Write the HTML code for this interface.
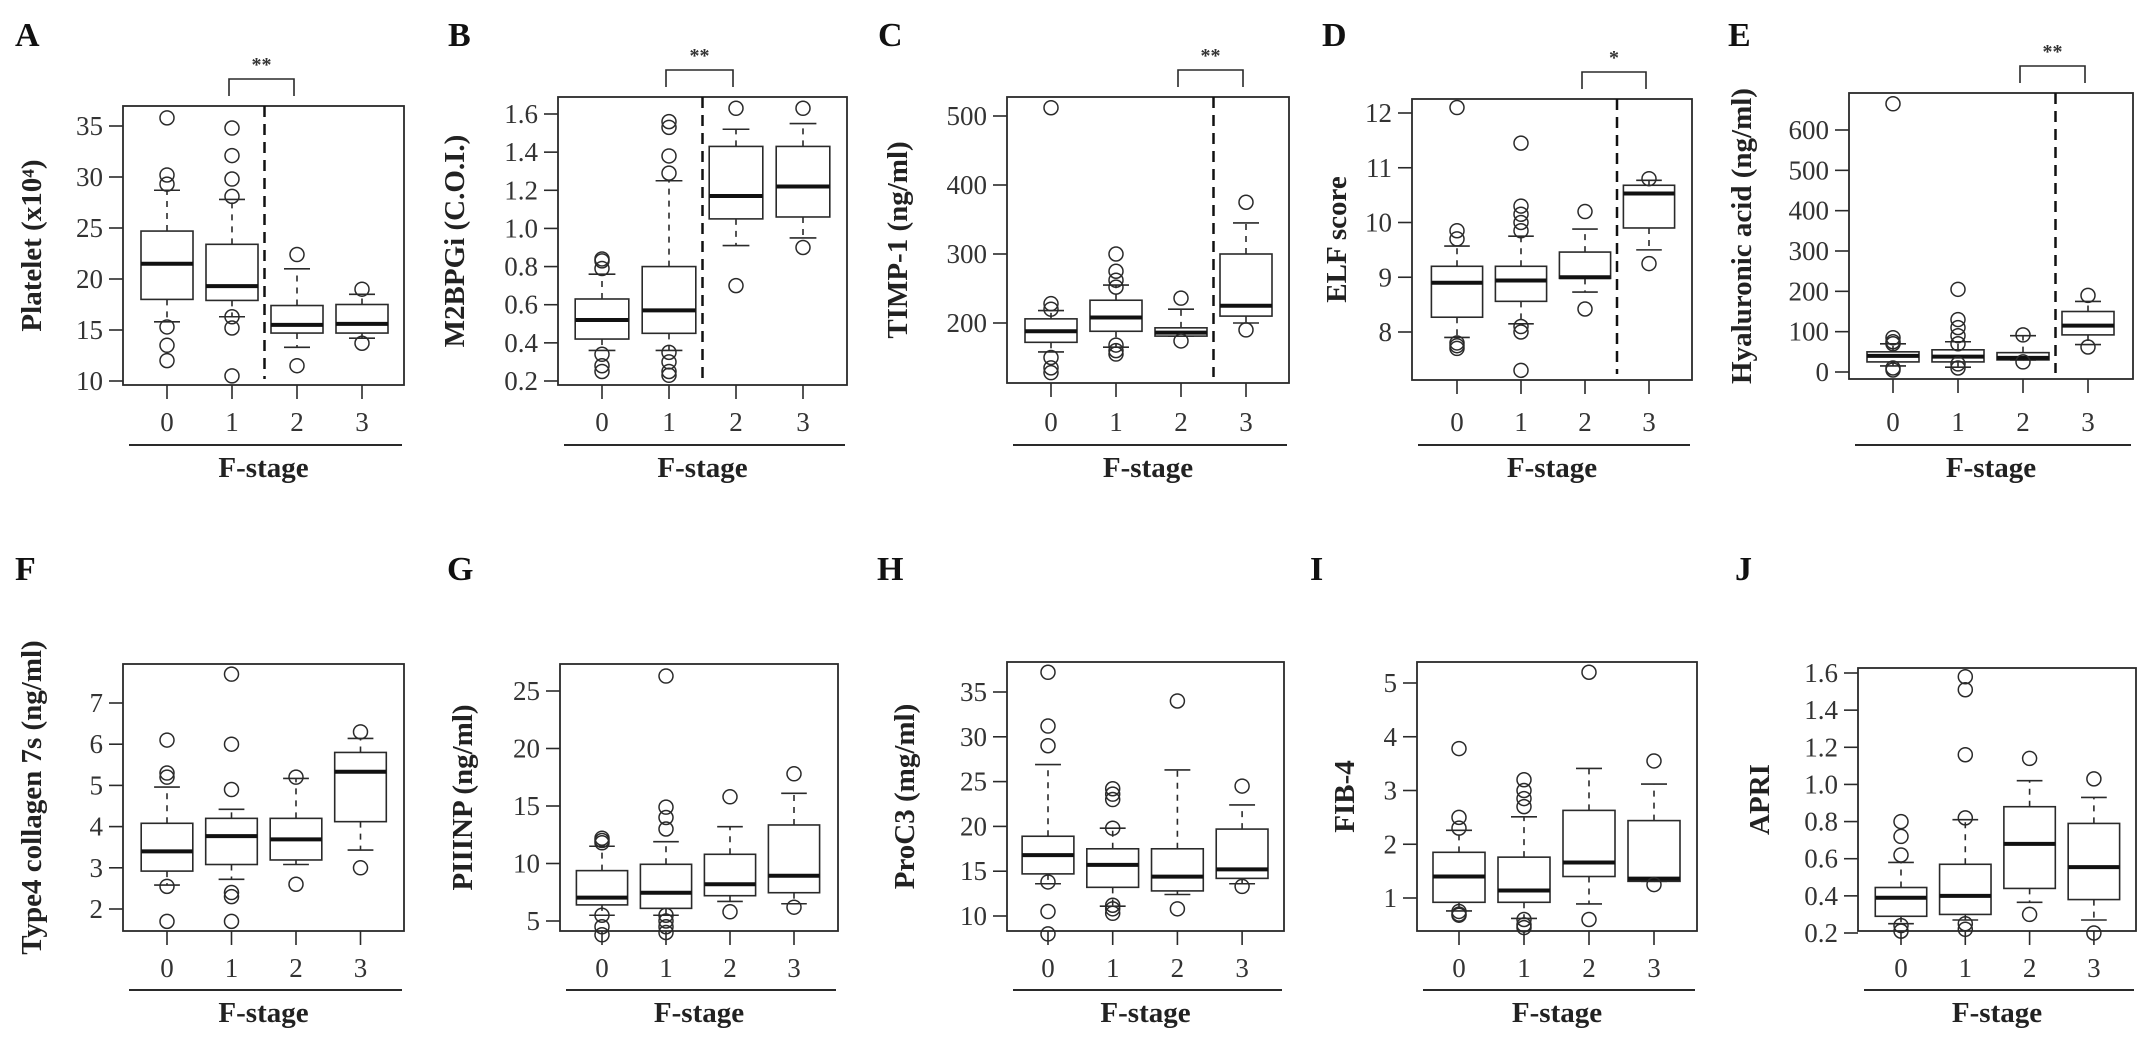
<!DOCTYPE html>
<html><head><meta charset="utf-8">
<style>
html,body{margin:0;padding:0;background:#fff;}
svg{display:block;font-family:"Liberation Serif",serif;}
</style></head>
<body>
<svg id="fig" width="2150" height="1058" viewBox="0 0 2150 1058" xmlns="http://www.w3.org/2000/svg"></svg>
<script>
// ---- data: [Q1, median, Q3, lowerWhisker, upperWhisker] per F-stage 0..3
const A_stats=[[18,21.5,24.7,15.8,28.7],[17.9,19.3,23.4,16.3,27.8],[14.7,15.5,17.4,13.3,21],[14.7,15.6,17.5,14.2,18.5]];
const A_out=[[35.8,30.2,29.3,15.3,13.5,12],[34.8,32.1,29.8,28.1,16.3,15.2,10.5],[22.4,11.5],[19.0,13.7]];
const A_ticks=[10,15,20,25,30,35];
const B_stats=[[0.42,0.52,0.63,0.36,0.76],[0.45,0.57,0.80,0.36,1.25],[1.05,1.17,1.43,0.91,1.52],[1.06,1.22,1.43,0.95,1.55]];
const B_out=[[0.84,0.83,0.79,0.34,0.28,0.25],[1.56,1.53,1.38,1.29,0.35,0.30,0.25,0.23],[1.63,0.70],[1.63,0.90]];
const B_ticks=[0.2,0.4,0.6,0.8,1.0,1.2,1.4,1.6];
const C_stats=[[172,188,206,158,218],[188,208,233,165,255],[181,186,193,181,220],[210,225,300,200,345]];
const C_out=[[512,228,220,150,135,128],[300,275,262,252,168,160,155],[236,174],[375,190]];
const C_ticks=[200,300,400,500];
const D_stats=[[8.27,8.9,9.2,7.9,9.57],[8.56,8.94,9.2,8.15,9.75],[8.98,9.0,9.46,8.73,9.88],[9.9,10.53,10.68,9.5,10.77]];
const D_out=[[12.1,9.85,9.7,7.8,7.75,7.7],[11.45,10.3,10.15,10.0,9.85,8.1,8.0,7.3],[10.2,8.42],[10.8,9.25]];
const D_ticks=[8,9,10,11,12];
const E_stats=[[25,40,50,15,70],[25,38,55,12,75],[30,35,48,30,90],[92,115,150,68,175]];
const E_out=[[665,85,75,70,10,5],[205,130,110,90,70,20,10],[92,25],[190,62]];
const E_ticks=[0,100,200,300,400,500,600];
const F_stats=[[2.92,3.4,4.08,2.58,4.96],[3.08,3.77,4.2,2.72,4.42],[3.19,3.69,4.2,3.08,5.17],[4.12,5.33,5.8,3.43,6.14]];
const F_out=[[6.1,5.3,5.2,2.55,1.7],[7.7,6.0,4.9,2.4,2.3,1.7],[5.2,2.6],[6.3,3.0]];
const F_ticks=[2,3,4,5,6,7];
const G_stats=[[6.4,7.03,9.38,5.5,11.5],[6.1,7.46,9.93,5.5,11.9],[7.2,8.2,10.8,6.7,13.2],[7.46,8.94,13.35,6.5,16.1]];
const G_out=[[12.2,12.0,11.8,5.5,4.5,3.8],[26.3,14.9,14.0,13.0,5.5,5.0,4.5,4.0],[15.8,5.8],[17.8,6.2]];
const G_ticks=[5,10,15,20,25];
const H_stats=[[14.7,16.8,18.9,13.6,26.9],[13.2,15.7,17.5,11.1,19.8],[12.8,14.4,17.5,12.4,26.3],[14.2,15.2,19.7,13.6,22.4]];
const H_out=[[37.2,31.2,29.0,13.8,10.5,8.0],[24.2,23.6,23.0,19.8,11.2,10.8,10.3],[34.0,10.8],[24.5,13.3]];
const H_ticks=[10,15,20,25,30,35];
const I_stats=[[0.92,1.4,1.85,0.76,2.26],[0.92,1.14,1.76,0.62,2.51],[1.4,1.66,2.63,0.89,3.41],[1.31,1.36,2.44,1.31,3.12]];
const I_out=[[3.78,2.5,2.3,0.75,0.7,0.68],[3.2,3.0,2.85,2.7,0.6,0.5,0.45],[5.2,0.6],[3.55,1.25]];
const I_ticks=[1,2,3,4,5];
const J_stats=[[0.29,0.39,0.445,0.25,0.58],[0.30,0.40,0.57,0.27,0.81],[0.44,0.68,0.88,0.365,1.02],[0.38,0.555,0.79,0.27,0.93]];
const J_out=[[0.8,0.72,0.62,0.24,0.21],[1.58,1.51,1.16,0.82,0.25,0.22],[1.14,0.30],[1.03,0.20]];
const J_ticks=[0.2,0.4,0.6,0.8,1.0,1.2,1.4,1.6];
const stageLabels=["0","1","2","3"];

// ---- layout (pixels)
const panels=[
 {id:"A",title:"Platelet (x10\u2074)",stats:A_stats,out:A_out,ticks:A_ticks,dec:0,L:123,R:404,T:106,B:385,ya:[10,381,35,126],gx0:167,gdx:65,lx:15,ly:46,tx:32,sig:"**",split:1},
 {id:"B",title:"M2BPGi (C.O.I.)",stats:B_stats,out:B_out,ticks:B_ticks,dec:1,L:558,R:847,T:97,B:385,ya:[0.2,381,1.6,114],gx0:602,gdx:67,lx:448,ly:46,tx:455,sig:"**",split:1},
 {id:"C",title:"TIMP-1 (ng/ml)",stats:C_stats,out:C_out,ticks:C_ticks,dec:0,L:1007,R:1289,T:97,B:383,ya:[200,323,500,116],gx0:1051,gdx:65,lx:878,ly:46,tx:898,sig:"**",split:2},
 {id:"D",title:"ELF score",stats:D_stats,out:D_out,ticks:D_ticks,dec:0,L:1412,R:1692,T:99,B:380,ya:[8,332,12,113],gx0:1457,gdx:64,lx:1322,ly:46,tx:1337,sig:"*",split:2},
 {id:"E",title:"Hyaluronic acid (ng/ml)",stats:E_stats,out:E_out,ticks:E_ticks,dec:0,L:1849,R:2133,T:93,B:379,ya:[0,372,600,130],gx0:1893,gdx:65,lx:1728,ly:46,tx:1742,sig:"**",split:2},
 {id:"F",title:"Type4 collagen 7s (ng/ml)",stats:F_stats,out:F_out,ticks:F_ticks,dec:0,L:123,R:404,T:664,B:931,ya:[2,909,7,703],gx0:167,gdx:64.5,lx:15,ly:580,tx:32,sig:null},
 {id:"G",title:"PIIINP (ng/ml)",stats:G_stats,out:G_out,ticks:G_ticks,dec:0,L:560,R:838,T:664,B:931,ya:[5,921,25,691],gx0:602,gdx:64,lx:447,ly:580,tx:463,sig:null},
 {id:"H",title:"ProC3 (mg/ml)",stats:H_stats,out:H_out,ticks:H_ticks,dec:0,L:1007,R:1284,T:662,B:931,ya:[10,916,35,692],gx0:1048,gdx:64.7,lx:877,ly:580,tx:905,sig:null},
 {id:"I",title:"FIB-4",stats:I_stats,out:I_out,ticks:I_ticks,dec:0,L:1417,R:1697,T:662,B:931,ya:[1,898,5,683],gx0:1459,gdx:65,lx:1310,ly:580,tx:1345,sig:null},
 {id:"J",title:"APRI",stats:J_stats,out:J_out,ticks:J_ticks,dec:1,L:1858,R:2136,T:668,B:931,ya:[0.2,933,1.6,673],gx0:1901,gdx:64.3,lx:1735,ly:580,tx:1760,sig:null}
];
const NS="http://www.w3.org/2000/svg";
const svg=document.getElementById("fig");
const INK="#2a2a2a";
function mk(tag,attrs,parent){const e=document.createElementNS(NS,tag);for(const k in attrs)e.setAttribute(k,attrs[k]);(parent||svg).appendChild(e);return e;}

panels.forEach(p=>{
  const g=mk("g",{});
  
  
  const [v1,y1,v2,y2]=p.ya;
  const Y=v=>y1+(v-v1)*(y2-y1)/(v2-v1);
  const X=i=>p.gx0+i*p.gdx;
  const row2=p.T>500;
  // panel letter
  const lt=mk("text",{x:p.lx,y:p.ly,"font-size":34,"font-weight":"bold",fill:"#111"},g);
  lt.textContent=p.id;
  
  
  // plot frame
  const fr=mk("rect",{x:p.L,y:p.T,width:p.R-p.L,height:p.B-p.T,fill:"none",stroke:INK,"stroke-width":1.8},g);
  
  
  // y ticks
  p.ticks.forEach(t=>{
    const yy=Y(t);
    const tl=mk("line",{x1:p.L-14,x2:p.L,y1:yy,y2:yy,stroke:INK,"stroke-width":1.6},g);
    
    
    const tt=mk("text",{x:p.L-20,y:yy+9,"font-size":27,"text-anchor":"end",fill:"#333"},g);
    tt.textContent=p.dec?t.toFixed(p.dec):String(t);
    
    
  });
  // y title
  const cy=(p.T+p.B)/2;
  const yt=mk("text",{x:p.tx,y:cy,"font-size":29,"font-weight":"bold","text-anchor":"middle",fill:"#222",transform:`rotate(-90 ${p.tx} ${cy})`,"dominant-baseline":"central"},g);
  yt.textContent=p.title;
  
  
  // x ticks
  const xtY=row2?977:431;
  stageLabels.forEach((s,i)=>{
    const xl=mk("line",{x1:X(i),x2:X(i),y1:p.B,y2:p.B+14,stroke:INK,"stroke-width":1.6},g);
    
    
    const xt=mk("text",{x:X(i),y:xtY,"font-size":27,"text-anchor":"middle",fill:"#333"},g);
    xt.textContent=s;
    
    
  });
  const bl=row2?990:445;
  const base=mk("line",{x1:p.L+6,x2:p.R-2,y1:bl,y2:bl,stroke:INK,"stroke-width":2},g);
  
  
  const xtitle=mk("text",{x:(p.L+p.R)/2,y:bl+32,"font-size":29,"font-weight":"bold","text-anchor":"middle",fill:"#222"},g);
  xtitle.textContent="F-stage";
  
  
  // boxes
  const bw=p.gdx*0.8;
  p.stats.forEach((s,i)=>{
    const [q1,med,q3,lo,hi]=s;
    const cx=X(i);
    const bg=mk("g",{},g);
    
    
    mk("line",{x1:cx,x2:cx,y1:Y(q3),y2:Y(hi),stroke:INK,"stroke-width":1.6,"stroke-dasharray":"6 6"},bg);
    mk("line",{x1:cx,x2:cx,y1:Y(q1),y2:Y(lo),stroke:INK,"stroke-width":1.6,"stroke-dasharray":"6 6"},bg);
    mk("line",{x1:cx-bw/4,x2:cx+bw/4,y1:Y(hi),y2:Y(hi),stroke:INK,"stroke-width":1.6},bg);
    mk("line",{x1:cx-bw/4,x2:cx+bw/4,y1:Y(lo),y2:Y(lo),stroke:INK,"stroke-width":1.6},bg);
    mk("rect",{x:cx-bw/2,y:Y(q3),width:bw,height:Math.max(1,Y(q1)-Y(q3)),fill:"#fff",stroke:INK,"stroke-width":1.6},bg);
    mk("line",{x1:cx-bw/2,x2:cx+bw/2,y1:Y(med),y2:Y(med),stroke:"#111","stroke-width":4},bg);
    p.out[i].forEach(v=>{
      const c=mk("circle",{cx:cx,cy:Y(v),r:7,fill:"none",stroke:INK,"stroke-width":1.5},bg);
      
      
    });
  });
  // significance
  if(p.sig){
    const sx=(X(p.split)+X(p.split+1))/2;
    const dl=mk("line",{x1:sx,x2:sx,y1:p.T,y2:p.B-6,stroke:"#111","stroke-width":2.5,"stroke-dasharray":"11 7"},g);
    
    
    const ba=X(p.split)-3,bb=X(p.split+1)-3,by=p.T-27;
    const br=mk("path",{d:`M${ba} ${p.T-10} V${by} H${bb} V${p.T-10}`,fill:"none",stroke:INK,"stroke-width":1.6},g);
    
    
    const st=mk("text",{x:(ba+bb)/2,y:by-8,"font-size":20,"font-weight":"bold","text-anchor":"middle",fill:"#333"},g);
    st.textContent=p.sig;
    
    
  }
});
</script>
</body></html>
